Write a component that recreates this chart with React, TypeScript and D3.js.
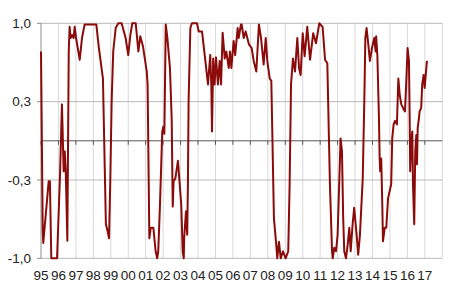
import React from "react";
import * as d3 from "d3";

const dates: number[] = [
  1995.0, 1995.1, 1995.13, 1995.44, 1995.51, 1995.59, 1995.92, 1996.09, 1996.2, 1996.3,
  1996.36, 1996.42, 1996.51, 1996.59, 1996.64, 1996.7, 1996.79, 1996.87, 1996.93, 1997.01,
  1997.22, 1997.35, 1997.5, 1998.17, 1998.31, 1998.55, 1998.72, 1998.82, 1998.9, 1998.97,
  1999.05, 1999.14, 1999.28, 1999.43, 1999.62, 1999.85, 2000.0, 2000.12, 2000.23, 2000.43,
  2000.58, 2000.69, 2000.85, 2001.06, 2001.11, 2001.21, 2001.29, 2001.44, 2001.57, 2001.66,
  2001.72, 2001.82, 2001.95, 2002.01, 2002.07, 2002.15, 2002.24, 2002.39, 2002.49, 2002.55,
  2002.6, 2002.7, 2002.85, 2002.98, 2003.04, 2003.12, 2003.18, 2003.21, 2003.31, 2003.38,
  2003.42, 2003.46, 2003.56, 2003.65, 2003.94, 2004.04, 2004.23, 2004.42, 2004.57, 2004.7,
  2004.76, 2004.8, 2004.87, 2004.95, 2005.03, 2005.14, 2005.24, 2005.32, 2005.41, 2005.53,
  2005.62, 2005.76, 2005.83, 2005.91, 2006.04, 2006.13, 2006.27, 2006.33, 2006.46, 2006.5,
  2006.62, 2006.73, 2006.92, 2007.07, 2007.19, 2007.34, 2007.49, 2007.61, 2007.76, 2007.88,
  2007.97, 2008.11, 2008.2, 2008.26, 2008.35, 2008.48, 2008.54, 2008.64, 2008.74, 2008.87,
  2009.02, 2009.17, 2009.25, 2009.33, 2009.44, 2009.56, 2009.69, 2009.79, 2009.88, 2010.0,
  2010.11, 2010.26, 2010.42, 2010.6, 2010.76, 2010.95, 2011.14, 2011.28, 2011.41, 2011.56,
  2011.68, 2011.72, 2011.81, 2011.91, 2012.0, 2012.09, 2012.17, 2012.25, 2012.32, 2012.38,
  2012.48, 2012.58, 2012.67, 2012.75, 2012.86, 2012.95, 2013.09, 2013.18, 2013.28, 2013.44,
  2013.53, 2013.59, 2013.66, 2013.78, 2013.85, 2013.97, 2014.1, 2014.18, 2014.21, 2014.28,
  2014.37, 2014.41, 2014.44, 2014.5, 2014.56, 2014.6, 2014.7, 2014.79, 2014.89, 2014.98,
  2015.07, 2015.13, 2015.21, 2015.29, 2015.4, 2015.48, 2015.56, 2015.65, 2015.75, 2015.86,
  2015.93, 2016.01, 2016.09, 2016.13, 2016.16, 2016.22, 2016.28, 2016.32, 2016.39, 2016.45,
  2016.51, 2016.55, 2016.59, 2016.66, 2016.7, 2016.79, 2016.85, 2016.93, 2016.99, 2017.05,
  2017.12,
];

const values: number[] = [
  0.76, -0.77, -0.87, -0.345, -0.345, -1.0, -1.0, -0.29, 0.31, -0.26,
  -0.09, -0.26, -0.85, 0.76, 0.97, 0.875, 0.9, 0.875, 0.97, 0.875,
  0.69, 0.875, 0.99, 0.99, 0.8, 0.53, -0.71, -0.77, -0.83, -0.345,
  0.34, 0.76, 0.96, 1.0, 1.0, 0.875, 0.73, 0.9, 1.0, 1.0,
  0.76, 0.89, 0.8, 0.59, 0.48, -0.83, -0.74, -0.74, -0.94, -1.0,
  -0.94, -0.54, 0.08, 0.12, 0.06, 0.99, 0.88, 0.62, 0.19, -0.56,
  -0.345, -0.32, -0.17, -0.43, -0.55, -0.94, -1.0, -0.82, -0.6, -0.8,
  -0.37, 0.34, 0.96, 1.0, 1.0, 0.93, 0.93, 0.68, 0.48, 0.73,
  0.48, 0.08, 0.7, 0.48, 0.71, 0.48, 0.68, 0.48, 0.92, 0.7,
  0.76, 0.62, 0.76, 0.62, 0.85, 0.73, 0.96, 0.875, 0.99, 0.99,
  0.875, 0.93, 0.82, 0.79, 0.68, 0.59, 0.99, 0.875, 0.65, 0.875,
  0.68, 0.53, 0.51, 0.05, -0.66, -0.88, -1.0, -0.86, -1.0, -0.94,
  -1.0, -0.94, -0.37, 0.48, 0.7, 0.59, 0.875, 0.62, 0.56, 0.915,
  0.72, 0.97, 0.69, 0.915, 0.83, 1.0, 0.97, 0.69, 0.66, -0.37,
  -0.94, -1.0, -0.91, -0.94, -0.8, -0.37, 0.02, -0.09, -0.66, -0.94,
  -1.0, -0.88, -0.74, -0.94, -0.71, -0.57, -0.8, -0.97, -0.8, -0.32,
  0.34, 0.875, 0.96, 0.79, 0.68, 0.79, 0.875, 0.76, 0.89, 0.72,
  0.19, -0.15, -0.26, -0.15, -0.54, -0.855, -0.74, -0.74, -0.49, -0.43,
  -0.37, 0.02, 0.14, 0.17, 0.14, 0.53, 0.39, 0.31, 0.28, 0.25,
  0.48, 0.79, 0.68, 0.19, -0.26, 0.0, 0.08, -0.37, -0.71, -0.09,
  0.05, -0.2, 0.11, 0.19, 0.25, 0.28, 0.48, 0.56, 0.45, 0.56,
  0.68,
];

const yearTicks: number[] = d3.range(1995, 2018);
const yearLabels: string[] = yearTicks.map((y) => String(y % 100).padStart(2, "0"));
const yTicks: number[] = [1, 1 / 3, -1 / 3, -1];
const yLabels: string[] = ["1,0", "0,3", "-0,3", "-1,0"];

const W = 450;
const H = 291;
const left = 41;
const right = 442.3;
const top = 23.3;
const bottom = 258.3;
const font = "'Liberation Sans', Arial, sans-serif";

export default function App() {
  const x = d3.scaleLinear().domain([1995, 2018]).range([left, right]);
  const y = d3.scaleLinear().domain([-1, 1]).range([bottom, top]);
  const data = dates.map((d, i) => [d, values[i]] as [number, number]);
  const line = d3
    .line<[number, number]>()
    .x((d) => x(d[0]))
    .y((d) => y(d[1]));

  return (
    <svg
      width={W}
      height={H}
      style={{ position: "absolute", left: 0, top: 0, background: "#fff" }}
    >
      {/* vertical gridlines */}
      {yearTicks.slice(1).map((t) => (
        <line key={"vg" + t} x1={x(t)} x2={x(t)} y1={top} y2={bottom} stroke="#d9d9d9" strokeWidth={1} />
      ))}
      <line x1={right} x2={right} y1={top} y2={bottom} stroke="#d9d9d9" strokeWidth={1} />
      {/* horizontal gridlines */}
      {yTicks.map((t, i) => (
        <line key={"hg" + i} x1={left} x2={right} y1={y(t)} y2={y(t)} stroke="#b8b8b8" strokeWidth={1} />
      ))}
      {/* y axis */}
      <line x1={left} x2={left} y1={top} y2={bottom} stroke="#8c8c8c" strokeWidth={1} />
      {yTicks.map((t, i) => (
        <g key={"yt" + i}>
          <line x1={left - 4} x2={left} y1={y(t)} y2={y(t)} stroke="#8c8c8c" strokeWidth={1} />
          <text
            x={31}
            y={y(t)}
            dy="0.35em"
            textAnchor="end"
            fontFamily={font}
            fontSize={13.5}
            fill="#222"
          >
            {yLabels[i]}
          </text>
        </g>
      ))}
      {/* zero line with ticks */}
      <line x1={left} x2={right} y1={y(0)} y2={y(0)} stroke="#555" strokeWidth={1} />
      {yearTicks.map((t) => (
        <line key={"xt" + t} x1={x(t)} x2={x(t)} y1={y(0)} y2={y(0) + 4} stroke="#555" strokeWidth={1} />
      ))}
      {/* x labels */}
      {yearTicks.map((t, i) => (
        <text
          key={"xl" + t}
          x={x(t)}
          y={280}
          textAnchor="middle"
          fontFamily={font}
          fontSize={13.5}
          fill="#222"
        >
          {yearLabels[i]}
        </text>
      ))}
      {/* series */}
      <path d={line(data) || ""} fill="none" stroke="#8b0a0a" strokeWidth={2} strokeLinejoin="round" />
    </svg>
  );
}
